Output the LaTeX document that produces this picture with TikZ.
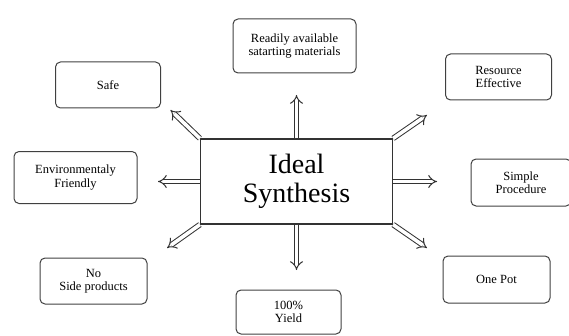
\documentclass[tikz,border=0pt]{standalone}
\usepackage{fontspec}
\setmainfont{Liberation Serif}
\usetikzlibrary{arrows.meta, positioning}

\begin{document}
\begin{tikzpicture}[
        x=1pt, y=1pt,
        feature/.style={rectangle, draw=black!75, line width=1pt, rounded corners=5pt, align=center, font=\fontsize{12.5}{13.5}\selectfont, inner sep=2pt},
        core/.style={rectangle, draw=black!80, line width=1.2pt, align=center, minimum width=192pt, minimum height=85pt, font=\fontsize{28}{29}\selectfont},
        line/.style={draw=black!80, line width=1pt, double=white, double distance=3.6pt, -{Implies[length=5pt]}}
    ]
        \useasboundingbox (0,0) rectangle (569,335);

        \node[core] (ideal) at (296.5,153.5) {Ideal\\Synthesis};

        \node[feature, minimum width=123pt, minimum height=54pt] (ready) at (294.5,289) {Readily available\\satarting materials};
        \node[feature, minimum width=105pt, minimum height=46pt] (safe) at (108,250) {Safe};
        \node[feature, minimum width=106pt, minimum height=46pt] (resource) at (498.5,258) {Resource\\Effective};
        \node[feature, minimum width=123pt, minimum height=52pt] (env) at (75.5,157.5) {Environmentaly\\Friendly};
        \node[feature, minimum width=100pt, minimum height=47pt] (simple) at (521,152.5) {Simple\\Procedure};
        \node[feature, minimum width=107pt, minimum height=46pt] (noside) at (93.5,54) {No\\Side products};
        \node[feature, minimum width=105pt, minimum height=44pt] (yield) at (288.5,23) {100\%\\Yield};
        \node[feature, minimum width=107pt, minimum height=47pt] (onepot) at (496.5,55.5) {One Pot};

        % free ends of the arrows
        \coordinate (up) at (296.5,240);
        \coordinate (down) at (296.5,65);
        \coordinate (left) at (158,153.5);
        \coordinate (right) at (437,153.5);
        \coordinate (upleft) at (170.5,225);
        \coordinate (upright) at (427,220);
        \coordinate (downleft) at (167,87);
        \coordinate (downright) at (427,87);

        \draw[line] (ideal.north) -- (up);
        \draw[line] (ideal.south) -- (down);
        \draw[line] (ideal.west) -- (left);
        \draw[line] (ideal.east) -- (right);
        \draw[line] (ideal.north west) -- (upleft);
        \draw[line] (ideal.north east) -- (upright);
        \draw[line] (ideal.south west) -- (downleft);
        \draw[line] (ideal.south east) -- (downright);

    \end{tikzpicture}
\end{document}
